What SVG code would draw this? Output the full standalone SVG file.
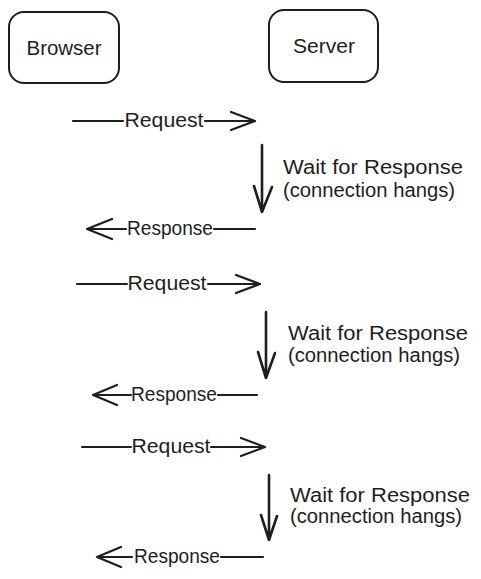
<svg xmlns="http://www.w3.org/2000/svg" width="481" height="579" viewBox="0 0 481 579">
<defs>
<style>
.box{fill:none;stroke:#1e1e1e;stroke-width:2;}
.ln{fill:none;stroke:#1e1e1e;stroke-width:2.2;stroke-linecap:round;stroke-linejoin:round;}
.dn{fill:none;stroke:#1e1e1e;stroke-width:2.6;stroke-linecap:round;stroke-linejoin:round;}
text{font-family:"Liberation Sans","DejaVu Sans",sans-serif;font-size:20px;fill:#1e1e1e;}
.c{text-anchor:middle;}
</style>
</defs>
<rect width="481" height="579" fill="#ffffff"/>
<g id="browser">
<rect class="box" x="9" y="12" width="110" height="71" rx="15"/>
<text class="c" x="64" y="55" textLength="75" lengthAdjust="spacingAndGlyphs">Browser</text>
</g>
<g id="server">
<rect class="box" x="269" y="10" width="109" height="72" rx="15"/>
<text class="c" x="324" y="53" textLength="62" lengthAdjust="spacingAndGlyphs">Server</text>
</g>
<g id="connectors">
<g id="req1">
<path class="ln" d="M73 121H123M205 121H255M231 112L255 121L231 130"/>
<text class="c" x="164" y="127" textLength="79" lengthAdjust="spacingAndGlyphs">Request</text>
</g>
<g id="wait1">
<path class="dn" d="M262 145V212M254 186L262 212L272 187"/>
<text x="283" y="174" textLength="180" lengthAdjust="spacingAndGlyphs">Wait for Response</text>
<text x="283" y="197" textLength="172" lengthAdjust="spacingAndGlyphs">(connection hangs)</text>
</g>
<g id="resp1">
<path class="ln" d="M87 229H126M214 229H255M112 219L87 229L112 239"/>
<text class="c" x="170" y="235" textLength="86" lengthAdjust="spacingAndGlyphs">Response</text>
</g>
<g id="req2">
<path class="ln" d="M77 284H127M208 284H260M236 275L260 284L236 293"/>
<text class="c" x="167" y="290" textLength="79" lengthAdjust="spacingAndGlyphs">Request</text>
</g>
<g id="wait2">
<path class="dn" d="M266 312V378M258 352L266 378L275 353"/>
<text x="288" y="340" textLength="180" lengthAdjust="spacingAndGlyphs">Wait for Response</text>
<text x="288" y="362" textLength="172" lengthAdjust="spacingAndGlyphs">(connection hangs)</text>
</g>
<g id="resp2">
<path class="ln" d="M93 395H131M218 395H257M117 385L93 395L117 405"/>
<text class="c" x="174" y="401" textLength="86" lengthAdjust="spacingAndGlyphs">Response</text>
</g>
<g id="req3">
<path class="ln" d="M82 447H131M211 447H265M241 438L265 447L241 456"/>
<text class="c" x="171" y="453" textLength="79" lengthAdjust="spacingAndGlyphs">Request</text>
</g>
<g id="wait3">
<path class="dn" d="M269 475V540M261 515L269 540L277 516"/>
<text x="290" y="502" textLength="180" lengthAdjust="spacingAndGlyphs">Wait for Response</text>
<text x="290" y="523" textLength="172" lengthAdjust="spacingAndGlyphs">(connection hangs)</text>
</g>
<g id="resp3">
<path class="ln" d="M97 557H132M221 557H263M121 547L97 557L121 567"/>
<text class="c" x="177" y="563" textLength="86" lengthAdjust="spacingAndGlyphs">Response</text>
</g>
</g>
</svg>
